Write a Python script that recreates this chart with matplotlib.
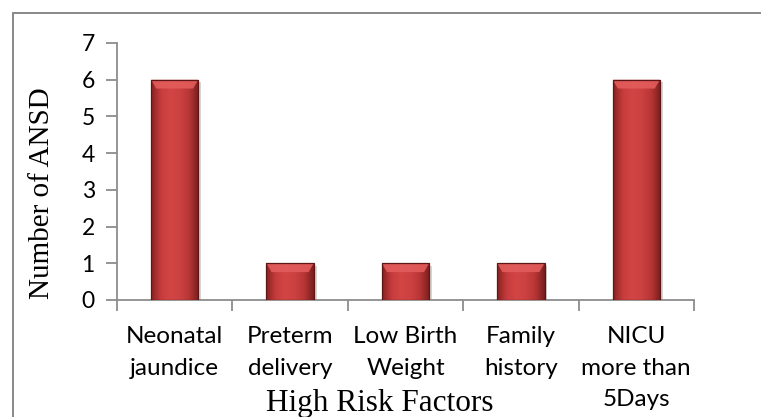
import numpy as np
import matplotlib
matplotlib.use("Agg")
import matplotlib.pyplot as plt
from matplotlib.colors import LinearSegmentedColormap
from matplotlib.patches import Rectangle
import matplotlib.patheffects as pe

# Datos del grafico
factores = ['Neonatal\njaundice', 'Preterm\ndelivery', 'Low Birth\nWeight',
            'Family\nhistory', 'NICU\nmore than\n5Days']
casos = [6, 1, 1, 1, 6]
yticks = [0, 1, 2, 3, 4, 5, 6, 7]

W, H = 761, 417
fig = plt.figure(figsize=(W / 100, H / 100), dpi=100)
fig.patch.set_facecolor('white')

# marco gris que sale por la derecha y por abajo
fig.patches.append(Rectangle((13 / W, -0.05), 1.1, 1 - 13 / H + 0.05,
                             transform=fig.transFigure, fill=False,
                             edgecolor='#808080', linewidth=1.3))

ax = fig.add_axes([117 / W, 1 - 300 / H, (694 - 117) / W, (300 - 43) / H])

x = np.arange(len(casos)) + 0.5
barras = ax.bar(x, casos, width=0.41, color='#c83e3e', edgecolor='none',
                zorder=3,
                path_effects=[pe.SimplePatchShadow(offset=(2, -2),
                                                   shadow_rgbFace='#888888',
                                                   alpha=0.35),
                              pe.Normal()])

# degradado para imitar el efecto de bisel
cmap = LinearSegmentedColormap.from_list(
    'rojo', ['#8a2222', '#c63c3c', '#d24545', '#cc4141', '#b83636', '#7a1e1e'])
grad = np.linspace(0, 1, 64)[None, :]
for b in barras:
    bx, by = b.get_x(), b.get_y()
    bw, bh = b.get_width(), b.get_height()
    im = ax.imshow(grad, extent=[bx, bx + bw, by, by + bh], cmap=cmap,
                   aspect='auto', zorder=3.5, interpolation='bicubic')
    im.set_clip_path(b)
    # bisel superior mas claro
    d = 0.24
    tope = plt.Polygon([[bx, by + bh], [bx + bw, by + bh],
                        [bx + bw - 0.045, by + bh - d], [bx + 0.045, by + bh - d]],
                       closed=True, facecolor='#e35c5c', edgecolor='none',
                       alpha=0.9, zorder=3.6)
    ax.add_patch(tope)
    ax.add_patch(Rectangle((bx, by), bw, bh, fill=False, edgecolor='#5e1515',
                           linewidth=0.9, zorder=3.7))

ax.set_xlim(0, len(casos))
ax.set_ylim(0, 7)
ax.set_yticks(yticks)
ax.set_yticklabels([str(v) for v in yticks])

ax.set_xticks(np.arange(len(casos) + 1))
ax.set_xticklabels([])
ax.set_xticks(x, minor=True)
ax.set_xticklabels(factores, minor=True, fontfamily='Lato', fontsize=17.5,
                   linespacing=1.6)

for lab in ax.get_yticklabels():
    lab.set_fontfamily('Lato')
    lab.set_fontsize(16.5)

gris = '#8c8c8c'
ax.tick_params(axis='x', which='major', length=8, width=1.3, color=gris,
               direction='out')
ax.tick_params(axis='x', which='minor', length=0, pad=19)
ax.tick_params(axis='y', length=8, width=1.3, color=gris, pad=8)

for s in ['top', 'right']:
    ax.spines[s].set_visible(False)
for s in ['left', 'bottom']:
    ax.spines[s].set_color(gris)
    ax.spines[s].set_linewidth(1.3)

fig.text(42 / W, 1 - 193 / H, 'Number of ANSD', rotation=90, ha='center',
         va='center', fontfamily='Liberation Serif', fontsize=21)
fig.text(380 / W, 1 - 411 / H, 'High Risk Factors', ha='center',
         va='baseline', fontfamily='Liberation Serif', fontsize=22.5)

fig.savefig('out.png', dpi=100)
